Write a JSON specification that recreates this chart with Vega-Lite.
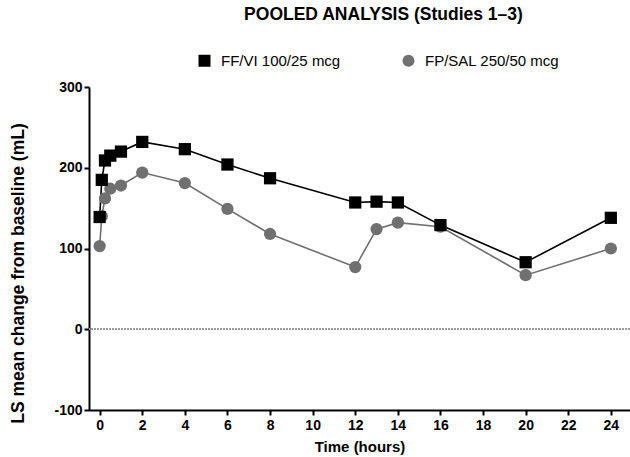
{
  "$schema": "https://vega.github.io/schema/vega-lite/v6.json",
  "autosize": {"type": "none"},
  "padding": {"left": 89, "top": 87, "right": 0, "bottom": 47},
  "width": 541,
  "height": 323,
  "background": "white",
  "config": {
    "font": "Liberation Sans",
    "view": {"stroke": null}
  },
  "title": {
    "text": "POOLED ANALYSIS (Studies 1–3)",
    "fontSize": 17.5,
    "fontWeight": "bold",
    "color": "#000000",
    "anchor": "middle",
    "dx": 24,
    "offset": 30
  },
  "data": {
    "values": [
      {"time": 0, "value": 103, "treatment": "FP/SAL 250/50 mcg"},
      {"time": 0.1, "value": 140, "treatment": "FP/SAL 250/50 mcg"},
      {"time": 0.25, "value": 162, "treatment": "FP/SAL 250/50 mcg"},
      {"time": 0.5, "value": 174, "treatment": "FP/SAL 250/50 mcg"},
      {"time": 1, "value": 178, "treatment": "FP/SAL 250/50 mcg"},
      {"time": 2, "value": 194, "treatment": "FP/SAL 250/50 mcg"},
      {"time": 4, "value": 181, "treatment": "FP/SAL 250/50 mcg"},
      {"time": 6, "value": 149, "treatment": "FP/SAL 250/50 mcg"},
      {"time": 8, "value": 118, "treatment": "FP/SAL 250/50 mcg"},
      {"time": 12, "value": 77, "treatment": "FP/SAL 250/50 mcg"},
      {"time": 13, "value": 124, "treatment": "FP/SAL 250/50 mcg"},
      {"time": 14, "value": 132, "treatment": "FP/SAL 250/50 mcg"},
      {"time": 16, "value": 127, "treatment": "FP/SAL 250/50 mcg"},
      {"time": 20, "value": 67, "treatment": "FP/SAL 250/50 mcg"},
      {"time": 24, "value": 100, "treatment": "FP/SAL 250/50 mcg"},
      {"time": 0, "value": 139, "treatment": "FF/VI 100/25 mcg"},
      {"time": 0.1, "value": 185, "treatment": "FF/VI 100/25 mcg"},
      {"time": 0.25, "value": 209, "treatment": "FF/VI 100/25 mcg"},
      {"time": 0.5, "value": 215, "treatment": "FF/VI 100/25 mcg"},
      {"time": 1, "value": 220, "treatment": "FF/VI 100/25 mcg"},
      {"time": 2, "value": 232, "treatment": "FF/VI 100/25 mcg"},
      {"time": 4, "value": 223, "treatment": "FF/VI 100/25 mcg"},
      {"time": 6, "value": 204, "treatment": "FF/VI 100/25 mcg"},
      {"time": 8, "value": 187, "treatment": "FF/VI 100/25 mcg"},
      {"time": 12, "value": 157, "treatment": "FF/VI 100/25 mcg"},
      {"time": 13, "value": 158, "treatment": "FF/VI 100/25 mcg"},
      {"time": 14, "value": 157, "treatment": "FF/VI 100/25 mcg"},
      {"time": 16, "value": 129, "treatment": "FF/VI 100/25 mcg"},
      {"time": 20, "value": 83, "treatment": "FF/VI 100/25 mcg"},
      {"time": 24, "value": 138, "treatment": "FF/VI 100/25 mcg"}
    ]
  },
  "layer": [
    {
      "mark": {"type": "line", "strokeWidth": 1.6},
      "encoding": {
        "x": {
          "field": "time", "type": "quantitative",
          "scale": {"domain": [-0.5, 24.9], "nice": false, "zero": false},
          "axis": {
            "title": "Time (hours)",
            "values": [0, 2, 4, 6, 8, 10, 12, 14, 16, 18, 20, 22, 24],
            "grid": false,
            "domainColor": "#000000", "domainWidth": 2,
            "tickColor": "#000000", "tickWidth": 2, "tickSize": 5,
            "labelFont": "Liberation Sans", "labelFontSize": 14, "labelFontWeight": "bold", "labelColor": "#000000",
            "labelPadding": 3,
            "titleFont": "Liberation Sans", "titleFontSize": 15, "titleFontWeight": "bold", "titleColor": "#000000",
            "titlePadding": 7
          }
        },
        "y": {
          "field": "value", "type": "quantitative",
          "scale": {"domain": [-100, 300], "nice": false},
          "axis": {
            "title": "LS mean change from baseline (mL)",
            "values": [-100, 0, 100, 200, 300],
            "labelExpr": "datum.value < 0 ? '-' + abs(datum.value) : datum.label",
            "grid": false,
            "domainColor": "#000000", "domainWidth": 2,
            "tickColor": "#000000", "tickWidth": 2, "tickSize": 5,
            "labelFont": "Liberation Sans", "labelFontSize": 14, "labelFontWeight": "bold", "labelColor": "#000000",
            "labelPadding": 2,
            "titleFont": "Liberation Sans", "titleFontSize": 17.5, "titleFontWeight": "bold", "titleColor": "#000000",
            "titlePadding": 26,
            "titleY": 186
          }
        },
        "color": {
          "field": "treatment", "type": "nominal",
          "scale": {"domain": ["FF/VI 100/25 mcg", "FP/SAL 250/50 mcg"], "range": ["#000000", "#707070"]}
        },
        "detail": {"field": "treatment"}
      }
    },
    {
      "mark": {"type": "rule", "color": "#9a9a9a", "strokeWidth": 1, "strokeDash": [1.5, 1.5]},
      "encoding": {"y": {"datum": 0, "type": "quantitative"}}
    },
    {
      "mark": {"type": "point", "filled": true, "opacity": 1, "size": 150, "strokeWidth": 0},
      "encoding": {
        "x": {"field": "time", "type": "quantitative"},
        "y": {"field": "value", "type": "quantitative"},
        "color": {
          "field": "treatment", "type": "nominal",
          "legend": {
            "title": null,
            "orient": "none",
            "legendX": 108,
            "legendY": -34,
            "direction": "horizontal",
            "columns": 2,
            "columnPadding": 60,
            "symbolSize": 144,
            "symbolStrokeWidth": 0,
            "labelFont": "Liberation Sans",
            "labelFontSize": 15,
            "labelColor": "#000000",
            "labelOffset": 9
          }
        },
        "shape": {
          "field": "treatment", "type": "nominal",
          "scale": {"domain": ["FF/VI 100/25 mcg", "FP/SAL 250/50 mcg"], "range": ["square", "circle"]}
        }
      }
    }
  ]
}
